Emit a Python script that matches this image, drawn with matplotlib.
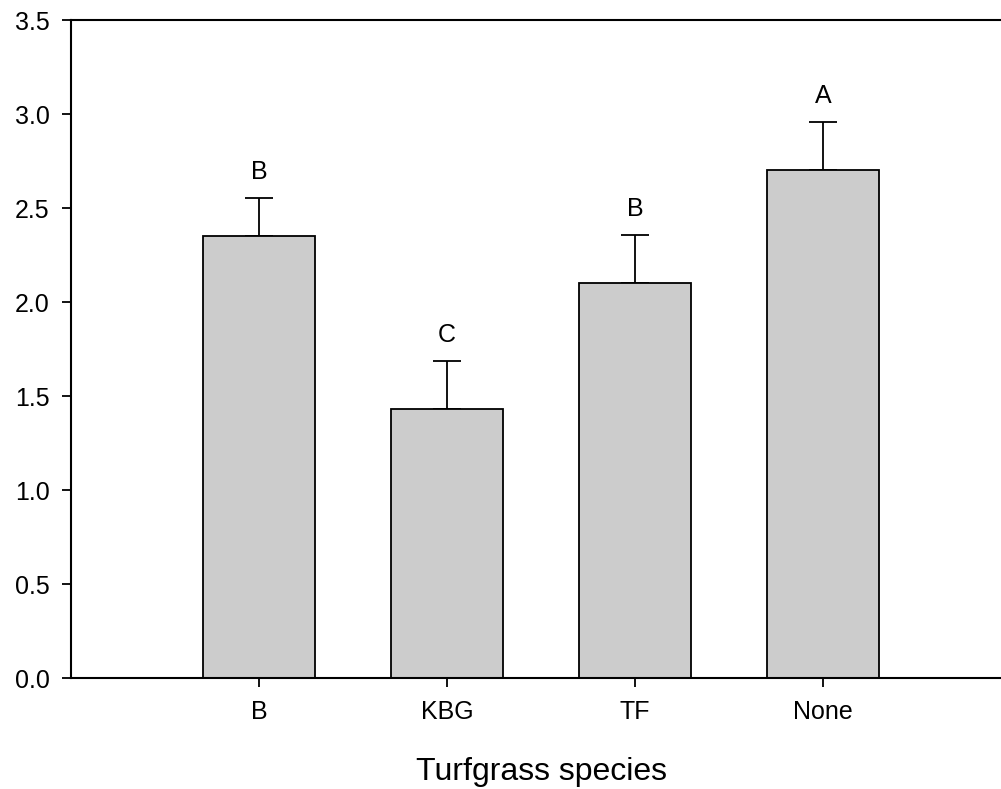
import matplotlib
matplotlib.use("Agg")
import matplotlib.pyplot as plt

species = ["B", "KBG", "TF", "None"]
means = [2.35, 1.43, 2.10, 2.70]
errors = [0.205, 0.255, 0.255, 0.255]
letters = ["B", "C", "B", "A"]

plt.rcParams['font.family'] = ['Liberation Sans', 'DejaVu Sans']

fig = plt.figure(figsize=(10.01, 7.89), dpi=100)
# axes runs off the right edge, as in the original
ax = fig.add_axes([71 / 1001, 1 - 678 / 789, 940 / 1001, 658 / 789])

pos = [1, 2, 3, 4]
ax.bar(pos, means, width=0.6, color="#cccccc", edgecolor="black", linewidth=1.3, zorder=2)
ax.errorbar(pos, means, yerr=[[0] * 4, errors], fmt="none", ecolor="black",
            elinewidth=1.3, capsize=10, capthick=1.3, zorder=1)

for p, m, e, lab in zip(pos, means, errors, letters):
    ax.text(p, m + e + 0.075, lab, ha="center", va="bottom", fontsize=18)

ax.set_xlim(0, 5)
ax.set_ylim(0, 3.5)
ax.set_xticks(pos)
ax.set_xticklabels(species)
ax.set_yticks([0, 0.5, 1.0, 1.5, 2.0, 2.5, 3.0, 3.5])
ax.set_yticklabels(["0.0", "0.5", "1.0", "1.5", "2.0", "2.5", "3.0", "3.5"])
ax.tick_params(axis="both", direction="out", length=6.5, width=1.3, labelsize=18, pad=9)
ax.spines["right"].set_visible(False)
for s in ["left", "bottom", "top"]:
    ax.spines[s].set_linewidth(1.5)
ax.set_xlabel("Turfgrass species", fontsize=23, labelpad=24)

fig.savefig("out.png", dpi=100)
